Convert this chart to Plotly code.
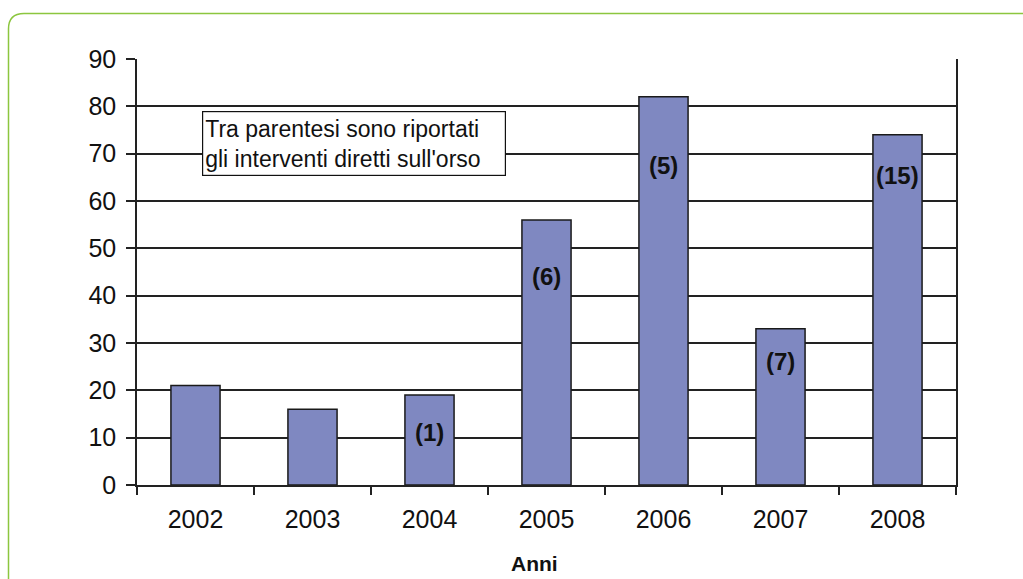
import plotly.graph_objects as go

years = ["2002", "2003", "2004", "2005", "2006", "2007", "2008"]
values = [21, 16, 19, 56, 82, 33, 74]
bear_labels = ["", "", "(1)", "(6)", "(5)", "(7)", "(15)"]
bear_label_y = [None, None, 11, 44, 67.6, 26, 65.3]
y_ticks = [0, 10, 20, 30, 40, 50, 60, 70, 80, 90]

W, H = 1023, 579
L, R, T, B = 137, 956, 59, 485

fig = go.Figure()
fig.add_trace(go.Bar(
    x=years, y=values, width=0.42,
    marker=dict(color="#7F88C1", line=dict(color="#1a1a1a", width=1.5)),
    hoverinfo="x+y",
))

font = "Liberation Sans, Arial, sans-serif"
for i, (txt, ly) in enumerate(zip(bear_labels, bear_label_y)):
    if txt:
        fig.add_annotation(x=i, y=ly, text="<b>" + txt + "</b>", showarrow=False,
                           font=dict(family=font, size=24, color="#111"),
                           xanchor="center", yanchor="middle")

def px2paper(px, py):
    return (px - L) / (R - L), (B - py) / (B - T)

fig.add_annotation(
    xref="paper", yref="paper", x=(202 - L) / (R - L), y=(B - 111) / (B - T),
    xanchor="left", yanchor="top", align="left", valign="middle", showarrow=False,
    text="Tra parentesi sono riportati<br>gli interventi diretti sull'orso",
    font=dict(family=font, size=23, color="#111"),
    width=298, height=59,
    bgcolor="white", bordercolor="#111", borderwidth=1.2, borderpad=2,
)

fig.add_annotation(
    xref="paper", yref="paper", x=(534 - L) / (R - L), y=(B - 563) / (B - T),
    xanchor="center", yanchor="middle", showarrow=False,
    text="<b>Anni</b>", font=dict(family=font, size=21, color="#111"),
)

# green rounded frame
x0, y0 = px2paper(8.5, 600)
x1, y1 = px2paper(8.5, 29)
xc, yc = px2paper(8.5, 13.5)
x2, y2 = px2paper(24, 13.5)
x3, y3 = px2paper(1040, 13.5)
fig.add_shape(type="path", xref="paper", yref="paper", layer="below",
              path=f"M {x0},{y0} L {x1},{y1} Q {xc},{yc} {x2},{y2} L {x3},{y3}",
              line=dict(color="#8CC63F", width=1.5))

fig.update_layout(
    width=W, height=H,
    margin=dict(l=L, r=W - R, t=T, b=H - B),
    paper_bgcolor="white", plot_bgcolor="white",
    showlegend=False,
    font=dict(family=font, size=25, color="#111"),
    xaxis=dict(type="category", range=[-0.5, 6.5], showline=True, linecolor="#222",
               linewidth=1.5, ticks="outside", tickson="boundaries", ticklen=8,
               tickwidth=1.5, tickcolor="#222", showgrid=False, tickangle=0,
               ticklabelstandoff=11,
               tickfont=dict(family=font, size=25, color="#111")),
    yaxis=dict(range=[0, 90], tickvals=y_ticks, showline=True, mirror=True,
               linecolor="#222", linewidth=1.5, ticks="outside", ticklen=9,
               tickwidth=1.5, tickcolor="#222", showgrid=True, gridcolor="#222",
               gridwidth=1.5, zeroline=False, ticklabelstandoff=5,
               tickfont=dict(family=font, size=25, color="#111")),
)

fig.write_html("out.html")
